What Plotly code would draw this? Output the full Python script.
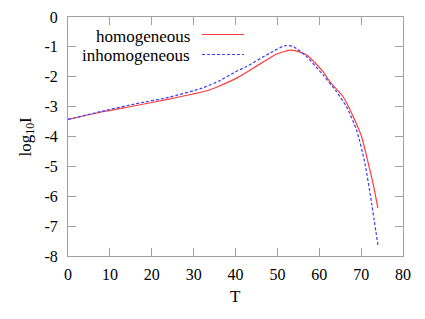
import plotly.graph_objects as go

T_hom = [0, 8, 16, 24, 33.4, 36.3, 40.6, 44, 47.4, 50, 53.4, 57, 60.9, 62.5, 65.7, 68.1, 70.1, 71.7, 73, 74]
y_hom = [-3.43, -3.18, -2.97, -2.75, -2.46, -2.30, -2.02, -1.73, -1.44, -1.23, -1.11, -1.27, -1.83, -2.16, -2.67, -3.33, -4.00, -4.89, -5.67, -6.40]

T_inh = [0, 8, 16, 24, 31.8, 36.3, 39.8, 42.6, 48.2, 51.8, 53.8, 57, 60.9, 64.1, 66.5, 68.9, 70.9, 72.5, 74]
y_inh = [-3.43, -3.16, -2.91, -2.69, -2.39, -2.13, -1.85, -1.66, -1.21, -0.96, -0.99, -1.33, -1.94, -2.50, -3.0, -3.78, -4.89, -6.23, -7.63]

series_names = ["homogeneous", "inhomogeneous"]
x_ticks = [0, 10, 20, 30, 40, 50, 60, 70, 80]
y_ticks = [0, -1, -2, -3, -4, -5, -6, -7, -8]

RED = "#ff3c3c"
BLUE = "#3c3cff"
FONT = "Liberation Serif"

fig = go.Figure()
fig.add_trace(go.Scatter(x=T_hom, y=y_hom, mode="lines", name=series_names[0],
                         line=dict(color=RED, width=1.2, shape="spline", smoothing=0.6)))
fig.add_trace(go.Scatter(x=T_inh, y=y_inh, mode="lines", name=series_names[1],
                         line=dict(color=BLUE, width=1.2, dash="3px,2px", shape="spline", smoothing=0.6)))

axis_common = dict(showgrid=False, zeroline=False, showline=True, linecolor="#a0a0a0", linewidth=1,
                   mirror="ticks", ticks="inside", ticklen=8, tickcolor="#a0a0a0", tickwidth=1,
                   automargin=False,
                   tickfont=dict(family=FONT, size=16, color="black"))

fig.update_xaxes(range=[0, 80], tickvals=x_ticks, ticktext=[str(v) for v in x_ticks],
                 ticklabelstandoff=4, **axis_common)
fig.update_yaxes(range=[-8, 0], tickvals=y_ticks, ticktext=[str(v) for v in y_ticks],
                 ticklabelstandoff=6, **axis_common)

# overlay axes in plot-fraction units for the gnuplot-style key samples
fig.update_layout(
    xaxis2=dict(overlaying="x", range=[0, 1], visible=False, fixedrange=True),
    yaxis2=dict(overlaying="y", range=[0, 1], visible=False, fixedrange=True),
)

# axis titles
fig.add_annotation(text="T", xref="paper", yref="paper", x=0.5, y=-40 / 239,
                   xanchor="center", yanchor="middle", showarrow=False,
                   font=dict(family=FONT, size=17, color="black"))
fig.add_annotation(text="log<sub>10</sub>I", xref="paper", yref="paper", x=-42 / 335, y=0.5,
                   xanchor="center", yanchor="middle", textangle=-90, showarrow=False,
                   font=dict(family=FONT, size=17, color="black"))

# gnuplot-style legend: right-aligned text, line sample to the right
legend_rows = [(series_names[0], RED, "solid", 0.92, 0.9268), (series_names[1], BLUE, "3px,2px", 0.84, 0.8431)]
for name, col, dash, yp, ys in legend_rows:
    fig.add_annotation(text=name, xref="paper", yref="paper", x=(192 - 68) / 335, y=yp,
                       xanchor="right", yanchor="middle", showarrow=False,
                       font=dict(family=FONT, size=17, color="black"))
    fig.add_trace(go.Scatter(x=[(202 - 68) / 335, (244 - 68) / 335], y=[ys, ys],
                             xaxis="x2", yaxis="y2", mode="lines", hoverinfo="skip",
                             line=dict(color=col, width=1, dash=dash)))

# the page body has an 8px margin, so the figure is 8px smaller and offset
fig.update_layout(width=417, height=311, margin=dict(l=60, r=22, t=9, b=63, autoexpand=False),
                  paper_bgcolor="white", plot_bgcolor="white", showlegend=False,
                  font=dict(family=FONT, color="black"))
fig.write_html("out.html")
